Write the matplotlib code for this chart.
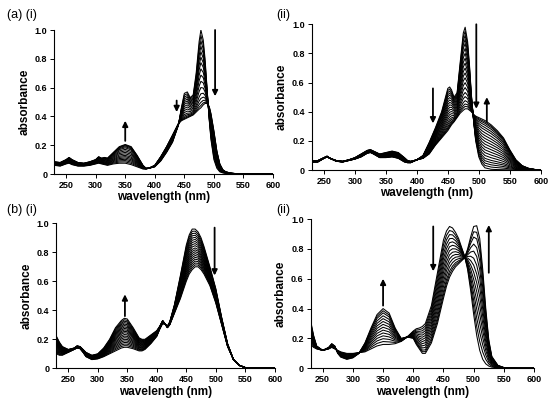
import numpy as np
import matplotlib
matplotlib.use('Agg')
import matplotlib.pyplot as plt

plt.rcParams['font.family'] = ['Liberation Sans', 'DejaVu Sans']

# ---- panel (a)(i) ----
wl_a1 = [230, 240, 250, 255, 260, 270, 280, 290, 300, 305, 310, 315, 320, 330, 340, 350, 360, 370,
         380, 385, 390, 400, 410, 420, 430, 440, 445, 450, 455, 460, 465, 470, 475, 478, 482, 485,
         488, 492, 495, 500, 505, 510, 515, 520, 530, 540, 560, 580, 600]
start_a1 = [0.06, 0.055, 0.07, 0.075, 0.065, 0.055, 0.055, 0.06, 0.07, 0.075, 0.07, 0.065, 0.06, 0.07,
            0.075, 0.075, 0.065, 0.05, 0.035, 0.035, 0.04, 0.05, 0.09, 0.15, 0.22, 0.34, 0.46, 0.56,
            0.57, 0.53, 0.55, 0.7, 0.92, 1.0, 0.93, 0.8, 0.62, 0.38, 0.24, 0.1, 0.04, 0.015, 0.008,
            0.005, 0.003, 0.002, 0.0, 0.0, 0.0]
end_a1 = [0.085, 0.08, 0.1, 0.115, 0.1, 0.08, 0.075, 0.085, 0.1, 0.12, 0.11, 0.115, 0.11, 0.15, 0.19,
          0.205, 0.19, 0.13, 0.06, 0.04, 0.04, 0.06, 0.12, 0.19, 0.27, 0.35, 0.37, 0.38, 0.39, 0.4,
          0.41, 0.43, 0.45, 0.46, 0.48, 0.49, 0.49, 0.47, 0.42, 0.3, 0.16, 0.07, 0.03, 0.015, 0.005,
          0.002, 0.0, 0.0, 0.0]
frac_a1 = [0, 0.07, 0.14, 0.21, 0.28, 0.35, 0.42, 0.5, 0.58, 0.66, 0.74, 0.82, 0.88, 0.93, 0.97, 1.0]

# ---- panel (a)(ii) ----
wl_a2 = [230, 240, 250, 255, 260, 270, 280, 290, 300, 310, 320, 325, 330, 340, 350, 360, 370, 380,
         385, 390, 400, 410, 420, 430, 440, 445, 450, 453, 456, 460, 465, 470, 475, 478, 482, 485,
         488, 492, 495, 500, 505, 510, 520, 530, 540, 550, 560, 570, 580, 590, 600]
start_a2 = [0.06, 0.065, 0.085, 0.095, 0.08, 0.065, 0.06, 0.07, 0.085, 0.11, 0.135, 0.14, 0.13, 0.11,
            0.12, 0.13, 0.12, 0.085, 0.065, 0.06, 0.07, 0.1, 0.19, 0.29, 0.4, 0.48, 0.56, 0.57,
            0.55, 0.5, 0.53, 0.74, 0.94, 0.98, 0.88, 0.72, 0.52, 0.32, 0.2, 0.09, 0.04, 0.015,
            0.005, 0.003, 0.002, 0.001, 0.0, 0.0, 0.0, 0.0, 0.0]
end_a2 = [0.055, 0.055, 0.08, 0.09, 0.08, 0.06, 0.055, 0.065, 0.075, 0.09, 0.115, 0.12, 0.11, 0.085,
          0.085, 0.09, 0.08, 0.055, 0.05, 0.05, 0.07, 0.08, 0.11, 0.17, 0.22, 0.245, 0.27, 0.29,
          0.31, 0.33, 0.36, 0.39, 0.41, 0.42, 0.42, 0.41, 0.4, 0.38, 0.37, 0.36, 0.35, 0.34, 0.31,
          0.27, 0.22, 0.14, 0.07, 0.03, 0.012, 0.004, 0.0]
frac_a2 = [0, 0.05, 0.1, 0.15, 0.2, 0.26, 0.32, 0.38, 0.44, 0.5, 0.56, 0.62, 0.68, 0.74, 0.8, 0.85,
           0.9, 0.94, 0.97, 1.0]

# ---- panel (b)(i) ----
wl_b1 = [230, 235, 240, 250, 260, 265, 270, 275, 280, 290, 300, 310, 320, 330, 340, 345, 350, 360,
         370, 375, 380, 390, 400, 405, 410, 415, 418, 422, 430, 440, 450, 455, 460, 465, 470, 475,
         480, 490, 500, 510, 520, 530, 540, 550, 560, 580, 600]
start_b1 = [0.1, 0.09, 0.09, 0.11, 0.13, 0.14, 0.135, 0.11, 0.08, 0.06, 0.065, 0.08, 0.1, 0.12, 0.14,
            0.145, 0.145, 0.135, 0.12, 0.12, 0.13, 0.17, 0.22, 0.27, 0.31, 0.3, 0.29, 0.32, 0.44,
            0.64, 0.85, 0.92, 0.96, 0.96, 0.94, 0.9, 0.84, 0.7, 0.55, 0.35, 0.17, 0.06, 0.02,
            0.005, 0.002, 0.0, 0.0]
end_b1 = [0.22, 0.18, 0.15, 0.13, 0.14, 0.155, 0.15, 0.13, 0.11, 0.09, 0.1, 0.14, 0.2, 0.28, 0.33,
          0.345, 0.34, 0.28, 0.21, 0.2, 0.2, 0.23, 0.26, 0.29, 0.33, 0.3, 0.28, 0.3, 0.38, 0.48,
          0.6, 0.65, 0.68, 0.7, 0.7, 0.68, 0.65, 0.57, 0.45, 0.3, 0.15, 0.06, 0.02, 0.005, 0.002,
          0.0, 0.0]
frac_b1 = [0, 0.055, 0.11, 0.165, 0.22, 0.275, 0.33, 0.385, 0.44, 0.5, 0.55, 0.6, 0.65, 0.7, 0.75,
           0.8, 0.85, 0.9, 0.95, 1.0]

# ---- panel (b)(ii) ----
wl_b2 = [230, 235, 240, 250, 260, 265, 270, 275, 280, 290, 300, 310, 320, 330, 340, 350, 360, 370,
         380, 390, 400, 405, 410, 415, 420, 430, 440, 450, 455, 460, 465, 470, 475, 480, 485, 490,
         495, 500, 505, 510, 515, 520, 525, 530, 540, 550, 560, 580, 600]
start_b2 = [0.16, 0.14, 0.13, 0.12, 0.13, 0.14, 0.13, 0.12, 0.11, 0.1, 0.1, 0.105, 0.11, 0.13, 0.15,
            0.16, 0.16, 0.165, 0.18, 0.21, 0.25, 0.265, 0.27, 0.28, 0.3, 0.42, 0.64, 0.86, 0.92,
            0.95, 0.94, 0.91, 0.87, 0.81, 0.75, 0.66, 0.52, 0.36, 0.22, 0.12, 0.06, 0.03, 0.015,
            0.008, 0.003, 0.001, 0.0, 0.0, 0.0]
end_b2 = [0.32, 0.22, 0.15, 0.12, 0.14, 0.165, 0.15, 0.1, 0.075, 0.06, 0.07, 0.1, 0.17, 0.27, 0.36,
          0.4, 0.37, 0.27, 0.2, 0.21, 0.2, 0.16, 0.13, 0.1, 0.1, 0.17, 0.3, 0.47, 0.55, 0.61, 0.65,
          0.68, 0.7, 0.72, 0.74, 0.8, 0.88, 0.95, 0.955, 0.87, 0.66, 0.4, 0.19, 0.08, 0.02, 0.005,
          0.001, 0.0, 0.0]
frac_b2 = [0, 0.08, 0.16, 0.24, 0.32, 0.4, 0.48, 0.56, 0.64, 0.72, 0.8, 0.88, 0.94, 1.0]

# arrows: (wavelength, tail absorbance, head absorbance)
arrows_a1 = [(350, 0.23, 0.37), (437, 0.51, 0.43), (502, 1.0, 0.54)]
arrows_a2 = [(426, 0.56, 0.32), (496, 1.0, 0.42), (513, 0.33, 0.50)]
arrows_b1 = [(346, 0.36, 0.51), (498, 0.97, 0.64)]
arrows_b2 = [(350, 0.42, 0.60), (433, 0.95, 0.65), (525, 0.64, 0.96)]

xticks = [250, 300, 350, 400, 450, 500, 550, 600]
yticks = [0, 0.2, 0.4, 0.6, 0.8, 1.0]
yticklabels = ['0', '0.2', '0.4', '0.6', '0.8', '1.0']

fig = plt.figure(figsize=(5.5, 3.99), dpi=100)

panels = [
    ([0.0987, 0.5639, 0.3977, 0.3609], wl_a1, start_a1, end_a1, frac_a1, arrows_a1),
    ([0.5665, 0.5739, 0.4166, 0.3652], wl_a2, start_a2, end_a2, frac_a2, arrows_a2),
    ([0.1027, 0.0769, 0.3969, 0.3635], wl_b1, start_b1, end_b1, frac_b1, arrows_b1),
    ([0.5647, 0.0769, 0.4064, 0.3742], wl_b2, start_b2, end_b2, frac_b2, arrows_b2),
]

for rect, wl, s, e, fracs, arrs in panels:
    ax = fig.add_axes(rect)
    s = np.array(s)
    e = np.array(e)
    for f in fracs:
        ax.plot(wl, s + f * (e - s), color='black', lw=0.75)
    for x, y0, y1 in arrs:
        ax.annotate('', xy=(x, y1), xytext=(x, y0),
                    arrowprops=dict(arrowstyle='-|>', color='black', lw=1.3,
                                    mutation_scale=8, shrinkA=0, shrinkB=0))
    ax.set_xlim(230, 600)
    ax.set_ylim(0, 1.0)
    ax.set_xticks(xticks)
    ax.set_yticks(yticks)
    ax.set_yticklabels(yticklabels)
    ax.spines['top'].set_visible(False)
    ax.spines['right'].set_visible(False)
    ax.tick_params(direction='out', length=3, width=0.7, labelsize=6.5, pad=2)
    for lab in ax.get_xticklabels() + ax.get_yticklabels():
        lab.set_fontweight('bold')
    ax.set_xlabel('wavelength (nm)', fontsize=8.5, fontweight='bold', labelpad=1)
    ax.set_ylabel('absorbance', fontsize=8.5, fontweight='bold', labelpad=3)

fig.text(0.012, 0.962, '(a) (i)', fontsize=9, va='center')
fig.text(0.502, 0.962, '(ii)', fontsize=9, va='center')
fig.text(0.012, 0.474, '(b) (i)', fontsize=9, va='center')
fig.text(0.502, 0.474, '(ii)', fontsize=9, va='center')

fig.savefig('out.png', dpi=100)
